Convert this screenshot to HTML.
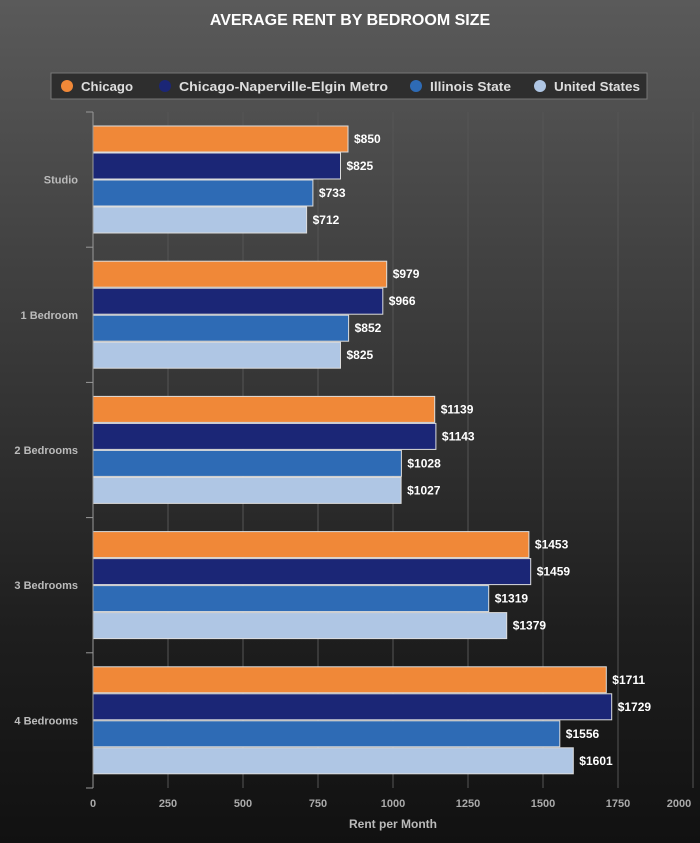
<!DOCTYPE html>
<html><head><meta charset="utf-8"><style>
html,body{margin:0;padding:0;width:700px;height:843px;overflow:hidden}
body{background:linear-gradient(#5a5a5a 0%,#3a3a3a 40%,#1e1e1e 75%,#111 100%);font-family:"Liberation Sans",sans-serif}
svg{display:block}
svg text{font-family:"Liberation Sans",sans-serif;font-weight:bold}
</style></head><body>
<svg width="700" height="843">
<text x="350" y="25" fill="#fff" font-size="16" text-anchor="middle">AVERAGE RENT BY BEDROOM SIZE</text>
<g id="legend">
<rect x="51" y="73" width="596" height="26" fill="#2e2e2e" stroke="#777" stroke-width="1"/>
</g>
<g id="grid"></g>
<g id="bars"></g>
<g id="axes"></g>
<text x="393" y="828" fill="#bbb" font-size="12" text-anchor="middle">Rent per Month</text>
</svg>
<script>
const categories=["Studio","1 Bedroom","2 Bedrooms","3 Bedrooms","4 Bedrooms"];
const seriesNames=["Chicago","Chicago-Naperville-Elgin Metro","Illinois State","United States"];
const chicago=[850,979,1139,1453,1711];
const metro=[825,966,1143,1459,1729];
const illinois=[733,852,1028,1319,1556];
const us=[712,825,1027,1379,1601];
const ticks=[0,250,500,750,1000,1250,1500,1750,2000];
const series=[chicago,metro,illinois,us];
const colors=["#f08838","#1b2676","#2e6bb5","#afc6e4"];
const NS="http://www.w3.org/2000/svg";
const x0=93,x1=693,yTop=112,yBot=788,xmax=2000;
const xs=v=>x0+(v/xmax)*(x1-x0);
const band=(yBot-yTop)/categories.length;
function mk(t,a,p){const e=document.createElementNS(NS,t);for(const k in a)e.setAttribute(k,a[k]);p.appendChild(e);return e;}
const grid=document.getElementById('grid'),bars=document.getElementById('bars'),axes=document.getElementById('axes'),legend=document.getElementById('legend');
ticks.forEach(t=>{
 if(t>0){const l=mk('line',{x1:xs(t),x2:xs(t),y1:yTop,y2:yBot,stroke:'#555','stroke-width':1},grid);
 
 }
 let tx=xs(t);if(t===2000)tx-=14;
 const tl=mk('text',{x:tx,y:807,fill:'#aaa','font-size':11,'text-anchor':'middle'},axes);tl.textContent=t;
 
 
});
mk('line',{x1:x0,x2:x0,y1:yTop,y2:yBot,stroke:'#999','stroke-width':1},axes);
for(let i=0;i<=categories.length;i++){const y=yTop+i*band;mk('line',{x1:x0-7,x2:x0,y1:y,y2:y,stroke:'#999'},axes);}
categories.forEach((c,i)=>{
 const bt=yTop+i*band;
 const lab=mk('text',{x:78,y:bt+band/2+4,fill:'#bbb','font-size':11,'text-anchor':'end'},axes);lab.textContent=c;
 
 
 series.forEach((s,j)=>{
  const y=bt+14+j*27;
  const r=mk('rect',{x:x0,y:y,width:xs(s[i])-x0,height:26,fill:colors[j],stroke:'#ddd','stroke-width':1},bars);
  
  
  const v=mk('text',{x:xs(s[i])+6,y:y+17,fill:'#fff','font-size':12},bars);v.textContent='$'+s[i];
  
  
 });
});
const lx=[61,159,410,534];
const lw=[52,209,81,86];
seriesNames.forEach((n,j)=>{
 const g=mk('g',{},legend);
 
 
 mk('circle',{cx:lx[j]+6,cy:86,r:6,fill:colors[j]},g);
 const t=mk('text',{x:lx[j]+20,y:91,fill:'#ddd','font-size':12.5,textLength:lw[j],lengthAdjust:'spacingAndGlyphs'},g);t.textContent=n;
});
</script>
</body></html>
